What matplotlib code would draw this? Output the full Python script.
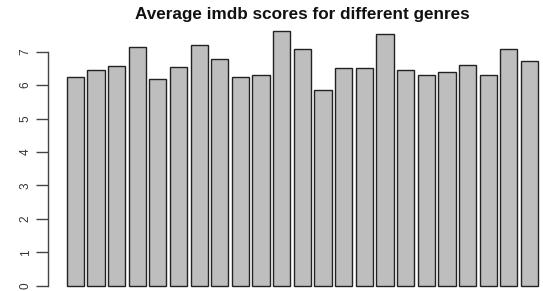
import matplotlib
matplotlib.use("Agg")
import matplotlib.pyplot as plt

scores = [6.24, 6.45, 6.58, 7.15, 6.19, 6.55, 7.19, 6.77, 6.24, 6.31, 7.63, 7.08,
          5.86, 6.50, 6.50, 7.54, 6.45, 6.29, 6.38, 6.61, 6.31, 7.08, 6.71]
yticks = [0, 1, 2, 3, 4, 5, 6, 7]
title = "Average imdb scores for different genres"

plt.rcParams['font.family'] = ['Liberation Sans', 'DejaVu Sans']

fig = plt.figure(figsize=(5.43, 2.91), dpi=100)
ax = fig.add_axes([0.0880, -0.0162, 0.9378, 0.9478])

n = len(scores)
lefts = [0.2 + 1.2 * i for i in range(n)]
ax.bar(lefts, scores, width=1.0, align='edge', color='#BEBEBE',
       edgecolor='#222222', linewidth=1.0)

ax.set_xlim(-0.896, 28.696)
ax.set_ylim(-0.3, 7.95)
for s in ['top', 'right', 'bottom']:
    ax.spines[s].set_visible(False)
ax.spines['left'].set_bounds(0, 7)
ax.spines['left'].set_color('#444444')
ax.spines['left'].set_linewidth(1.0)
ax.set_xticks([])
ax.set_yticks(yticks)
ax.set_yticklabels([str(t) for t in yticks], rotation=90, va='center',
                   fontsize=8.5, color='#333333')
ax.tick_params(axis='y', length=8.5, width=1.0, color='#444444', pad=3)

fig.text(0.557, 0.950, title, ha='center', va='center', fontsize=12.3,
         fontweight='bold', color='#111111')

fig.savefig("out.png", dpi=100)
